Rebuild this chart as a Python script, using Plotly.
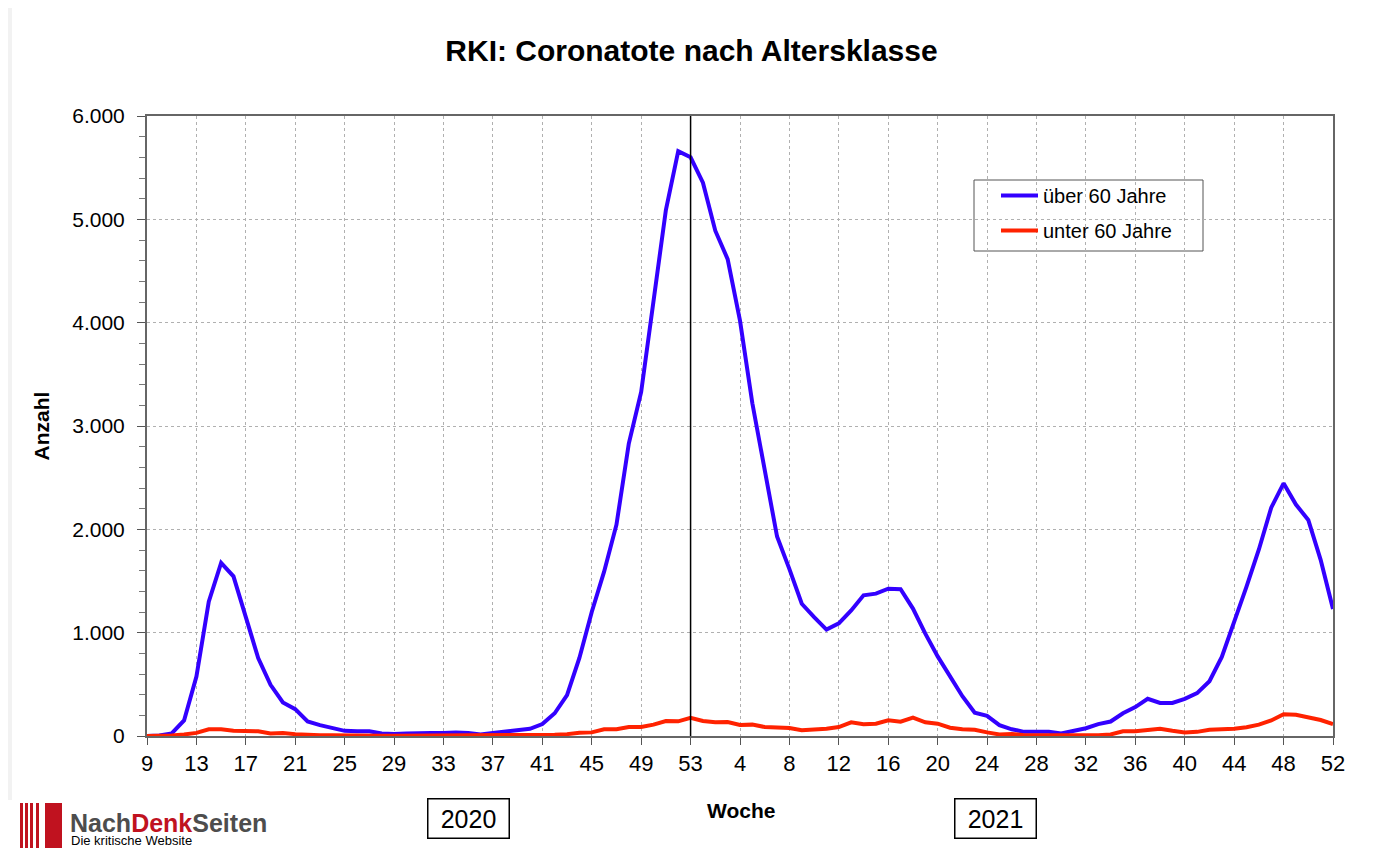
import plotly.graph_objects as go

# weeks: 2020 runs 9..53, 2021 runs 1..52
weeks_2020 = list(range(9, 54))
weeks_2021 = list(range(1, 53))
week_labels = [str(w) for w in weeks_2020 + weeks_2021]

# Coronatote über 60 Jahre
ueber_60_2020 = [0, 5, 25, 150, 575, 1300, 1675, 1545, 1150, 755,
                 495, 325, 260, 140, 105, 75, 50, 45, 45, 25,
                 20, 25, 30, 30, 30, 35, 30, 15, 30, 45,
                 60, 70, 115, 220, 395, 755, 1200, 1590, 2045, 2830,
                 3330, 4220, 5090, 5660, 5600]
ueber_60_2021 = [5355, 4890, 4615, 4020, 3220, 2600, 1930, 1615, 1280, 1150,
                 1030, 1090, 1215, 1362, 1378, 1426, 1420, 1233, 990, 770,
                 575, 385, 225, 195, 105, 65, 40, 40, 40, 25,
                 50, 75, 115, 140, 220, 280, 360, 320, 320, 360,
                 415, 530, 765, 1095, 1445, 1805, 2210, 2445, 2240, 2090,
                 1705, 1230]

# Coronatote unter 60 Jahre
unter_60_2020 = [0, 0, 5, 15, 30, 65, 65, 52, 45, 45,
                 25, 28, 18, 10, 8, 8, 5, 5, 5, 3,
                 3, 3, 3, 3, 3, 3, 3, 3, 3, 3,
                 3, 5, 8, 12, 18, 32, 35, 65, 65, 87,
                 87, 110, 145, 142, 175]
unter_60_2021 = [145, 132, 135, 106, 110, 87, 80, 77, 55, 61,
                 71, 87, 132, 113, 119, 152, 139, 177, 132, 119,
                 80, 65, 60, 35, 15, 20, 8, 8, 8, 5,
                 5, 5, 8, 15, 45, 45, 60, 70, 50, 35,
                 40, 60, 65, 70, 85, 110, 150, 210, 205, 180,
                 155, 115]

ueber_60 = ueber_60_2020 + ueber_60_2021
unter_60 = unter_60_2020 + unter_60_2021
xpos = list(range(len(week_labels)))
tick_idx = xpos[::4]

FONT = "Liberation Sans, Arial, sans-serif"

# screen pixel -> paper coords (plot area spans x 147..1333, y 116..736)
def pxx(p):
    return (p - 147) / 1186

def pxy(p):
    return (736 - p) / 620

fig = go.Figure()
fig.add_trace(go.Scatter(x=xpos, y=ueber_60, mode="lines", name="über 60 Jahre",
                         legendgroup="a", line=dict(color="#3300ff", width=4)))
fig.add_trace(go.Scatter(x=xpos, y=unter_60, mode="lines", name="unter 60 Jahre",
                         legendgroup="b", line=dict(color="#ff2200", width=4)))

# year boundary (week 53 of 2020)
fig.add_vline(x=weeks_2020.index(53), line=dict(color="black", width=1.5))

# page body has an 8px margin, so the figure is 8px smaller than the window
fig.update_layout(
    width=1367, height=840,
    margin=dict(l=139, r=42, t=108, b=112),
    paper_bgcolor="white", plot_bgcolor="white",
    font=dict(family=FONT, color="black"),
    separators=",.",
    title=dict(text="<b>RKI: Coronatote nach Altersklasse</b>", x=0.5, xanchor="center",
               y=1 - 42 / 840, yanchor="middle", font=dict(size=30)),
    legend=dict(x=pxx(996), y=pxy(176), xanchor="left", yanchor="top",
                bgcolor="rgba(0,0,0,0)", borderwidth=0, itemwidth=37,
                font=dict(size=20), tracegroupgap=6),
    showlegend=True,
)

# legend frame
fig.add_shape(type="rect", xref="paper", yref="paper",
              x0=pxx(974), x1=pxx(1203), y0=pxy(251), y1=pxy(180),
              fillcolor="white", line=dict(color="#555555", width=1), layer="between")

fig.update_xaxes(
    range=[0, len(xpos) - 1],
    tickvals=tick_idx, ticktext=[week_labels[i] for i in tick_idx],
    tickfont=dict(size=22), ticks="outside", ticklen=7, tickcolor="#555555",
    showgrid=True, gridcolor="#b0b0b0", griddash="dot", gridwidth=1,
    showline=True, linecolor="#666666", linewidth=2, mirror=True,
    zeroline=False,
)
fig.update_yaxes(
    range=[0, 6000], dtick=1000, tickformat=",d",
    tickfont=dict(size=21), ticks="outside", ticklen=8, tickcolor="#555555",
    ticklabelstandoff=8,
    minor=dict(dtick=200, ticks="outside", ticklen=6, tickcolor="#777777", showgrid=False),
    showgrid=True, gridcolor="#b0b0b0", griddash="dot", gridwidth=1,
    showline=True, linecolor="#666666", linewidth=2, mirror=True,
    zeroline=False,
    title=dict(text="<b>Anzahl</b>", font=dict(size=21), standoff=17),
)

# x axis title placed where the reference has it
fig.add_annotation(text="<b>Woche</b>", xref="paper", yref="paper",
                   x=pxx(741), y=pxy(810), showarrow=False, font=dict(size=21),
                   xanchor="center", yanchor="middle")

# year boxes under the axis
for txt, xc in [("2020", 468), ("2021", 995)]:
    fig.add_annotation(text=txt, xref="paper", yref="paper",
                       x=pxx(xc), y=pxy(818), width=70, height=28,
                       showarrow=False, font=dict(size=25, color="black"),
                       bordercolor="black", borderwidth=1.5, borderpad=5,
                       bgcolor="white", xanchor="center", yanchor="middle")

# faint strip at the left edge of the page
fig.add_shape(type="rect", xref="paper", yref="paper",
              x0=pxx(8), x1=pxx(12), y0=pxy(800), y1=pxy(0),
              fillcolor="#f2f2f2", line=dict(width=0), layer="below")

# NachDenkSeiten logo (bottom left)
for x0, x1 in [(20, 23), (25, 28), (30, 33), (36, 39), (45, 62)]:
    fig.add_shape(type="rect", xref="paper", yref="paper",
                  x0=pxx(x0), x1=pxx(x1), y0=pxy(848), y1=pxy(803),
                  fillcolor="#c0121f", line=dict(width=0))
fig.add_annotation(text="<b><span style='color:#4d4d4d'>Nach</span>"
                        "<span style='color:#c0121f'>Denk</span>"
                        "<span style='color:#4d4d4d'>Seiten</span></b>",
                   xref="paper", yref="paper", x=pxx(68), y=pxy(823),
                   xanchor="left", yanchor="middle", showarrow=False,
                   font=dict(size=25))
fig.add_annotation(text="Die kritische Website", xref="paper", yref="paper",
                   x=pxx(69), y=pxy(840),
                   xanchor="left", yanchor="middle", showarrow=False,
                   font=dict(size=13, color="black"))

fig.write_html("out.html")
